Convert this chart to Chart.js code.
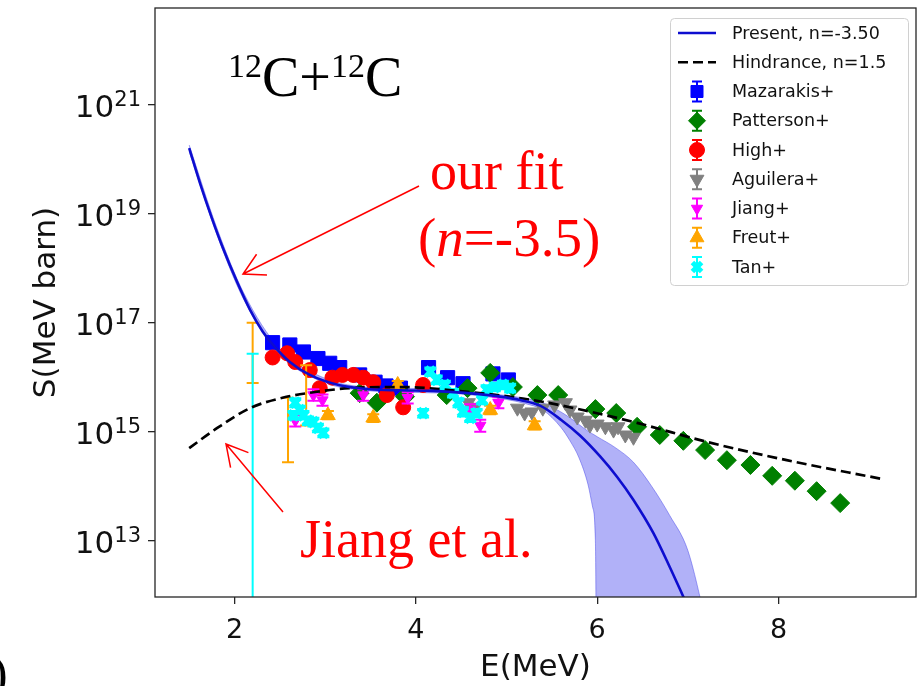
<!DOCTYPE html>
<html>
<head>
<meta charset="utf-8">
<title>12C+12C S-factor</title>
<script src="https://cdn.jsdelivr.net/npm/chart.js@4.4.1/dist/chart.umd.min.js"></script>
<style>
  html, body { margin: 0; padding: 0; background: #fff; }
  canvas { display: block; }
</style>
</head>
<body>
<canvas id="sfactor" width="921" height="686"></canvas>
<script>
// E in MeV, S in MeV barn

// present fit, n = -3.50
const presentE = [1.50, 1.62, 1.75, 1.87, 2.03, 2.17, 2.31, 2.42, 2.61, 2.83, 3.16, 3.49, 3.83, 4.19,
  4.57, 4.93, 5.15, 5.37, 5.60, 5.81, 6.03, 6.22, 6.40, 6.62, 6.80, 6.94, 7.05];
const presentS = [1.6e20, 3.6e19, 8.3e18, 2.4e18, 5.5e17, 1.74e17, 6.9e16, 4.0e16, 1.9e16, 1.1e16, 7.1e15,
  6.0e15, 5.75e15, 5.6e15, 5.1e15, 4.4e15, 3.8e15, 3.0e15, 1.66e15, 8.5e14, 3.55e14, 1.48e14, 5.6e13,
  1.38e13, 3.3e12, 1.02e12, 4.0e11];

// uncertainty band of the fit
const bandE = [1.5, 1.8, 2.1, 2.5, 3.0, 3.5, 4.0, 4.5, 5.0, 5.2, 5.4, 5.6, 5.7, 5.8, 5.9, 5.95, 5.98,
  6.0, 6.2, 6.4, 6.6, 6.8, 7.0, 7.2];
const bandLow = [1.38e20, 4.4e18, 2.7e17, 2.6e16, 7.9e15, 5.6e15, 5.25e15, 4.9e15, 3.9e15, 3.3e15,
  2.5e15, 1.2e15, 6.8e14, 3.3e14, 1.05e14, 4.1e13, 1.0e13, 1e9, 1e9, 1e9, 1e9, 1e9, 1e9, 1e9];
const bandHigh = [1.82e20, 5.8e18, 3.55e17, 3.3e16, 9.5e15, 6.5e15, 6.2e15, 5.6e15, 4.6e15, 4.1e15,
  3.4e15, 2.3e15, 1.8e15, 1.35e15, 1.02e15, 9.1e14, 8.5e14, 8.1e14, 5.1e14, 2.75e14, 1.0e14, 2.9e13,
  6.6e12, 3.2e11];

// hindrance model, n = 1.5
const hindE = [1.50, 1.81, 2.17, 2.53, 2.91, 3.27, 3.83, 4.57, 5.29, 5.84, 6.44, 7.21, 8.09, 9.12];
const hindS = [5.0e14, 1.17e15, 2.7e15, 4.2e15, 5.4e15, 6.3e15, 6.6e15, 5.4e15, 3.8e15, 2.5e15,
  1.45e15, 6.5e14, 3.0e14, 1.38e14];

// measurements
const mazE = [2.42, 2.61, 2.76, 2.92, 3.05, 3.16, 3.38, 3.55, 3.67, 3.83, 4.14, 4.35, 4.52, 4.85, 5.02];
const mazS = [4.3e16, 3.9e16, 2.9e16, 2.2e16, 1.8e16, 1.5e16, 1.1e16, 8.1e15, 6.9e15, 6.3e15, 1.5e16,
  9.8e15, 7.6e15, 1.15e16, 8.9e15];

const patE = [3.38, 3.57, 3.88, 4.34, 4.57, 4.82, 5.07, 5.34, 5.57, 5.98, 6.21, 6.44, 6.69, 6.95, 7.19,
  7.43, 7.69, 7.93, 8.18, 8.42, 8.68];
const patS = [5.1e15, 3.4e15, 4.4e15, 4.7e15, 6.3e15, 1.2e16, 6.6e15, 4.7e15, 4.7e15, 2.6e15, 2.2e15,
  1.23e15, 8.7e14, 6.8e14, 4.6e14, 3.0e14, 2.45e14, 1.55e14, 1.26e14, 8.1e13, 4.9e13];

const highE = [2.42, 2.58, 2.67, 2.83, 2.94, 3.08, 3.19, 3.31, 3.42, 3.53, 3.68, 3.86, 4.08];
const highS = [2.3e16, 2.75e16, 1.9e16, 1.35e16, 6.3e15, 9.8e15, 1.1e16, 1.1e16, 9.8e15, 8.1e15,
  4.7e15, 2.8e15, 7.2e15];

const aguE = [4.58, 4.65, 5.12, 5.20, 5.28, 5.40, 5.53, 5.65, 5.70, 5.78, 5.87, 5.92, 6.00, 6.09,
  6.18, 6.23, 6.31, 6.40];
const aguS = [3.4e15, 2.8e15, 2.7e15, 2.2e15, 2.3e15, 2.7e15, 3.1e15, 3.4e15, 2.5e15, 1.86e15,
  1.62e15, 1.32e15, 1.38e15, 1.23e15, 1.07e15, 1.23e15, 8.7e14, 7.9e14];

const jiangE = [2.67, 2.87, 2.97, 3.42, 3.91, 4.60, 4.71, 4.91];
const jiangS = [1.6e15, 4.7e15, 3.8e15, 4.7e15, 4.2e15, 2.5e15, 1.3e15, 3.4e15];
const jiangLo = [1.25e15, 3.7e15, 3.0e15, 3.7e15, 3.3e15, 2.0e15, 1.0e15, 2.7e15];
const jiangHi = [2.0e15, 6.0e15, 4.8e15, 6.0e15, 5.3e15, 3.2e15, 1.65e15, 4.3e15];

const freutE = [2.20, 2.59, 2.79, 3.03, 3.53, 3.80, 4.82, 5.31];
const freutS = [2.9e16, 1.07e15, 4.7e15, 2.0e15, 1.8e15, 7.2e15, 2.5e15, 1.3e15];
const freutLo = [7.8e15, 2.75e14, 1.3e15, 1.7e15, 1.5e15, 6.1e15, 2.1e15, 1.1e15];
const freutHi = [1.0e17, 4.2e15, 1.66e16, 2.4e15, 2.1e15, 8.5e15, 3.0e15, 1.55e15];

const tanE = [2.20, 2.65, 2.67, 2.72, 2.76, 2.81, 2.87, 2.92, 2.98, 4.08, 4.16, 4.23, 4.32, 4.41,
  4.47, 4.52, 4.60, 4.67, 4.73, 4.78, 4.87, 4.96, 5.04];
const tanS = [4.0e11, 2.0e15, 3.4e15, 2.5e15, 2.0e15, 1.6e15, 1.5e15, 1.17e15, 9.5e14, 2.2e15, 1.26e16,
  8.9e15, 7.2e15, 5.1e15, 3.4e15, 2.3e15, 1.8e15, 2.2e15, 3.8e15, 5.9e15, 6.6e15, 7.2e15, 6.3e15];
const tanLo = [1e9, 1.67e15, 2.8e15, 2.1e15, 1.67e15, 1.33e15, 1.25e15, 9.8e14, 7.9e14, 1.83e15,
  1.05e16, 7.4e15, 6.0e15, 4.25e15, 2.8e15, 1.9e15, 1.5e15, 1.83e15, 3.2e15, 4.9e15, 5.5e15, 6.0e15, 5.25e15];
const tanHi = [2.7e16, 2.4e15, 4.1e15, 3.0e15, 2.4e15, 1.9e15, 1.8e15, 1.4e15, 1.14e15, 2.6e15,
  1.5e16, 1.07e16, 8.6e15, 6.1e15, 4.1e15, 2.8e15, 2.16e15, 2.6e15, 4.6e15, 7.1e15, 7.9e15, 8.6e15, 7.6e15];

const xTicks = [2, 4, 6, 8];
const yTickExps = [13, 15, 17, 19, 21];

function points(xs, ys, lo, hi) {
  return xs.map((x, i) => ({ x, y: ys[i], lo: lo ? lo[i] : null, hi: hi ? hi[i] : null }));
}

function marker(label, data, color, style, radius, order, extra) {
  return Object.assign({
    type: 'scatter', label, data,
    backgroundColor: color, borderColor: color, borderWidth: 1,
    pointStyle: style, pointRadius: radius, order
  }, extra || {});
}

Chart.defaults.font.family = '"DejaVu Sans", sans-serif';

const datasets = [
  { type: 'line', label: 'Present, n=-3.50', data: points(presentE, presentS),
    borderColor: '#0d0dcf', borderWidth: 2.6, pointRadius: 0, cubicInterpolationMode: 'monotone', order: 0 },
  { type: 'line', label: 'Hindrance, n=1.5', data: points(hindE, hindS),
    borderColor: '#000', borderWidth: 2.7, borderDash: [10, 5], pointRadius: 0,
    cubicInterpolationMode: 'monotone', order: 0 },
  { type: 'line', label: 'band-low', legendSkip: true, data: points(bandE, bandLow),
    borderColor: 'rgba(60,60,230,0.45)', borderWidth: 1, pointRadius: 0,
    cubicInterpolationMode: 'monotone', fill: false, order: 9 },
  { type: 'line', label: 'band-high', legendSkip: true, data: points(bandE, bandHigh),
    borderColor: 'rgba(60,60,230,0.45)', borderWidth: 1, pointRadius: 0,
    cubicInterpolationMode: 'monotone', fill: '-1', backgroundColor: 'rgba(40,40,235,0.36)', order: 9 },
  marker('Mazarakis+', points(mazE, mazS), '#0000ff', 'rect', 10, 8),
  marker('Patterson+', points(patE, patS), '#008000', 'rectRot', 9.5, 7),
  marker('High+', points(highE, highS), '#ff0000', 'circle', 7.5, 6),
  marker('Aguilera+', points(aguE, aguS), '#808080', 'triangle', 8, 5, { pointRotation: 180 }),
  marker('Jiang+', points(jiangE, jiangS, jiangLo, jiangHi), '#ff00ff', 'triangle', 6.5, 4,
    { pointRotation: 180, errorBars: true }),
  marker('Freut+', points(freutE, freutS, freutLo, freutHi), '#ffa500', 'triangle', 8.5, 3,
    { errorBars: true, pointRadius: [0, 0, 0, 8.5, 8.5, 8.5, 8.5, 8.5] }),
  marker('Tan+', points(tanE, tanS, tanLo, tanHi), '#00ffff', 'crossRot', 6.5, 2,
    { borderWidth: 5, errorBars: true })
];

// vertical error bars with caps, drawn under each dataset's markers
const errorBars = {
  id: 'errorBars',
  beforeDatasetDraw(chart, args) {
    const ds = chart.data.datasets[args.index];
    if (!ds.errorBars) return;
    const { ctx, chartArea: a, scales: { x, y } } = chart;
    ctx.save();
    ctx.beginPath();
    ctx.rect(a.left, a.top, a.right - a.left, a.bottom - a.top);
    ctx.clip();
    ctx.strokeStyle = ds.backgroundColor;
    ctx.lineWidth = 2;
    ds.data.forEach(p => {
      if (p.lo == null) return;
      const px = x.getPixelForValue(p.x);
      const top = y.getPixelForValue(p.hi);
      const bot = y.getPixelForValue(p.lo);
      ctx.beginPath();
      ctx.moveTo(px, top); ctx.lineTo(px, bot);
      ctx.moveTo(px - 6, top); ctx.lineTo(px + 6, top);
      ctx.moveTo(px - 6, bot); ctx.lineTo(px + 6, bot);
      ctx.stroke();
    });
    ctx.restore();
  }
};

// frame, tick labels with exponents, axis titles
const axisText = {
  id: 'axisText',
  afterDraw(chart) {
    const { ctx, chartArea: a, scales: { x, y } } = chart;
    ctx.save();
    ctx.strokeStyle = '#262626';
    ctx.lineWidth = 1.3;
    ctx.strokeRect(a.left, a.top, a.right - a.left, a.bottom - a.top);

    ctx.fillStyle = '#111';
    ctx.textBaseline = 'alphabetic';
    ctx.font = '27px "DejaVu Sans"';
    ctx.textAlign = 'center';
    xTicks.forEach(v => ctx.fillText(String(v), x.getPixelForValue(v), a.bottom + 41));

    ctx.textAlign = 'left';
    yTickExps.forEach(e => {
      const py = y.getPixelForValue(Math.pow(10, e));
      ctx.font = '31px "DejaVu Sans"';
      const w1 = ctx.measureText('10').width;
      ctx.font = '21px "DejaVu Sans"';
      const w2 = ctx.measureText(String(e)).width;
      const x0 = a.left - 14 - w1 - w2;
      ctx.font = '31px "DejaVu Sans"';
      ctx.fillText('10', x0, py + 12);
      ctx.font = '21px "DejaVu Sans"';
      ctx.fillText(String(e), x0 + w1, py + 1);
    });

    ctx.font = '31px "DejaVu Sans"';
    ctx.textAlign = 'center';
    ctx.fillText('E(MeV)', (a.left + a.right) / 2, a.bottom + 79);
    ctx.save();
    ctx.translate(47, (a.top + a.bottom) / 2);
    ctx.rotate(-Math.PI / 2);
    ctx.textBaseline = 'middle';
    ctx.fillText('S(MeV barn)', 0, 0);
    ctx.restore();
    ctx.restore();
  }
};

function drawRuns(ctx, x, runs) {
  runs.forEach(([text, font, dy, color]) => {
    ctx.font = font;
    ctx.fillStyle = color;
    ctx.fillText(text, x, dy);
    x += ctx.measureText(text).width;
  });
}

function arrow(ctx, x1, y1, x2, y2) {
  const ang = Math.atan2(y1 - y2, x1 - x2);
  const len = 24, spread = 29 * Math.PI / 180;
  ctx.beginPath();
  ctx.moveTo(x1, y1); ctx.lineTo(x2, y2);
  ctx.moveTo(x2 + len * Math.cos(ang + spread), y2 + len * Math.sin(ang + spread));
  ctx.lineTo(x2, y2);
  ctx.lineTo(x2 + len * Math.cos(ang - spread), y2 + len * Math.sin(ang - spread));
  ctx.stroke();
}

// in-plot captions and pointers
const notes = {
  id: 'notes',
  afterDraw(chart) {
    const ctx = chart.ctx;
    const serif = '"Liberation Serif", "Times New Roman", serif';
    ctx.save();
    ctx.textAlign = 'left';
    ctx.textBaseline = 'alphabetic';
    drawRuns(ctx, 228, [
      ['12', `34px ${serif}`, 77, '#000'], ['C+', `56px ${serif}`, 96, '#000'],
      ['12', `34px ${serif}`, 77, '#000'], ['C', `56px ${serif}`, 96, '#000']
    ]);
    drawRuns(ctx, 430, [['our fit', `54px ${serif}`, 189, '#f00']]);
    drawRuns(ctx, 418, [
      ['(', `55px ${serif}`, 256, '#f00'], ['n', `italic 55px ${serif}`, 256, '#f00'],
      ['=-3.5)', `55px ${serif}`, 256, '#f00']
    ]);
    drawRuns(ctx, 300, [['Jiang et al.', `54px ${serif}`, 557, '#f00']]);
    drawRuns(ctx, -9, [[')', `50px ${serif}`, 690, '#000']]);

    ctx.strokeStyle = '#f00';
    ctx.lineWidth = 1.5;
    arrow(ctx, 419, 186, 243, 274);
    arrow(ctx, 283, 512, 226, 444);
    ctx.restore();
  }
};

// legend box in the upper right corner
const legendBox = {
  id: 'legendBox',
  afterDraw(chart) {
    const ctx = chart.ctx;
    const left = 670, top = 18, w = 238, h = 267;
    ctx.save();
    ctx.beginPath();
    ctx.roundRect(left + 0.5, top + 0.5, w, h, 4);
    ctx.fillStyle = 'rgba(255,255,255,0.85)';
    ctx.fill();
    ctx.strokeStyle = '#d0d0d0';
    ctx.lineWidth = 1;
    ctx.stroke();

    const items = chart.data.datasets.filter(ds => !ds.legendSkip);
    items.forEach((ds, i) => {
      const cy = 33 + i * 29.25;
      if (ds.type === 'line') {
        ctx.strokeStyle = ds.borderColor;
        ctx.lineWidth = ds.borderWidth;
        ctx.setLineDash(ds.borderDash || []);
        ctx.beginPath();
        ctx.moveTo(678, cy); ctx.lineTo(716, cy);
        ctx.stroke();
        ctx.setLineDash([]);
      } else {
        const cx = 697;
        ctx.strokeStyle = ds.backgroundColor;
        ctx.lineWidth = 2;
        ctx.beginPath();
        ctx.moveTo(cx, cy - 10); ctx.lineTo(cx, cy + 10);
        ctx.moveTo(cx - 5, cy - 10); ctx.lineTo(cx + 5, cy - 10);
        ctx.moveTo(cx - 5, cy + 10); ctx.lineTo(cx + 5, cy + 10);
        ctx.stroke();
        ctx.fillStyle = ds.backgroundColor;
        ctx.strokeStyle = ds.borderColor;
        ctx.lineWidth = ds.borderWidth;
        const r = Array.isArray(ds.pointRadius) ? 8 : ds.pointRadius;
        Chart.helpers.drawPoint(ctx, {
          pointStyle: ds.pointStyle, radius: Math.min(r, 8.5),
          rotation: ds.pointRotation || 0, borderWidth: ds.borderWidth
        }, cx, cy);
      }
      ctx.fillStyle = '#111';
      ctx.font = '17.5px "DejaVu Sans"';
      ctx.textAlign = 'left';
      ctx.textBaseline = 'middle';
      ctx.fillText(ds.label, 732, cy + 1);
    });
    ctx.restore();
  }
};

new Chart(document.getElementById('sfactor'), {
  type: 'scatter',
  data: { datasets },
  options: {
    responsive: false,
    animation: false,
    devicePixelRatio: 1,
    layout: { autoPadding: false, padding: { top: 8, right: 5, left: 0, bottom: 0 } },
    plugins: { legend: { display: false }, tooltip: { enabled: false } },
    scales: {
      x: {
        type: 'linear', min: 1.123, max: 9.516,
        afterBuildTicks: s => { s.ticks = xTicks.map(v => ({ value: v })); },
        afterFit: s => { s.height = 89; s.paddingLeft = 0; s.paddingRight = 0; },
        ticks: { display: false },
        grid: { drawOnChartArea: false, drawTicks: true, tickLength: 7, color: '#262626', lineWidth: 1.3 },
        border: { display: false }
      },
      y: {
        type: 'logarithmic', min: 9.27e11, max: 5.94e22,
        afterBuildTicks: s => { s.ticks = yTickExps.map(e => ({ value: Math.pow(10, e) })); },
        afterFit: s => { s.width = 155; s.paddingTop = 0; s.paddingBottom = 0; },
        ticks: { display: false },
        grid: { drawOnChartArea: false, drawTicks: true, tickLength: 7, color: '#262626', lineWidth: 1.3 },
        border: { display: false }
      }
    }
  },
  plugins: [errorBars, axisText, notes, legendBox]
});
</script>
</body>
</html>
